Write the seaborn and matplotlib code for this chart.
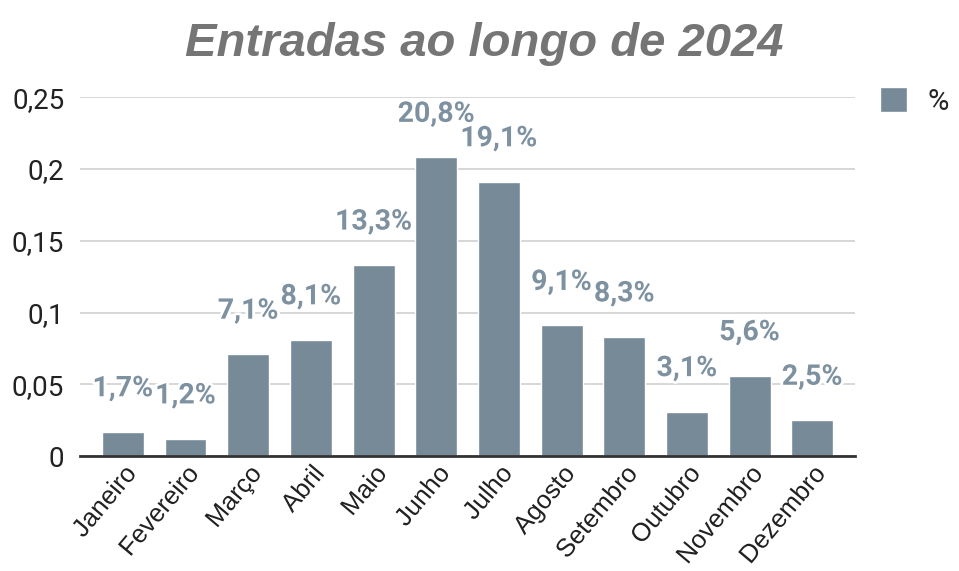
import matplotlib
matplotlib.use("Agg")
import matplotlib.pyplot as plt
import matplotlib.patheffects as pe
import pandas as pd
import seaborn as sns

# Data
meses = ["Janeiro", "Fevereiro", "Março", "Abril", "Maio", "Junho",
         "Julho", "Agosto", "Setembro", "Outubro", "Novembro", "Dezembro"]
valores = [0.017, 0.012, 0.071, 0.081, 0.133, 0.208,
           0.191, 0.091, 0.083, 0.031, 0.056, 0.025]
yticks = [0, 0.05, 0.1, 0.15, 0.2, 0.25]
ytick_labels = ["0", "0,05", "0,1", "0,15", "0,2", "0,25"]

df = pd.DataFrame({"mes": meses, "valor": valores})

bar_color = "#768a98"
label_color = "#7d91a1"

sns.set_style("white")
plt.rcParams["font.family"] = ["Roboto", "DejaVu Sans"]

fig = plt.figure(figsize=(9.59, 5.71), dpi=100)
ax = fig.add_axes([0.083, 0.201, 0.809, 0.629])

sns.barplot(data=df, x="mes", y="valor", color=bar_color, width=0.67,
            saturation=1, ax=ax, label="%")

ax.set_ylim(0, 0.25)
ax.set_xlim(-0.69, 11.69)
ax.set_yticks(yticks)
ax.set_yticklabels(ytick_labels, fontsize=20, color="#222222")
ax.yaxis.grid(True, color="#d4d4d4", linewidth=1.3)
ax.set_axisbelow(True)
for s in ["top", "right", "left"]:
    ax.spines[s].set_visible(False)
ax.spines["bottom"].set_color("#333333")
ax.spines["bottom"].set_linewidth(2)
ax.tick_params(axis="y", length=0, pad=11)
ax.tick_params(axis="x", length=0, pad=4)
ax.set_xlabel("")
ax.set_ylabel("")

ax.set_xticks(range(len(meses)))
ax.set_xticklabels(meses, rotation=50, ha="right", rotation_mode="anchor",
                   fontsize=18.5, family="Liberation Sans", color="#222222")
for t in ax.get_xticklabels():
    t.set_path_effects([pe.withStroke(linewidth=3, foreground="white")])

# Value labels
for i, v in enumerate(valores):
    txt = f"{v * 100:.1f}%".replace(".", ",")
    ax.annotate(txt, (i, v), xytext=(0, 31), textcoords="offset points",
                ha="center", va="center", fontsize=20.5, fontweight="bold",
                color=label_color, clip_on=False,
                path_effects=[pe.withStroke(linewidth=4, foreground="white")])

ax.legend(loc="upper left", bbox_to_anchor=(1.005, 1.085), frameon=False,
          fontsize=21, handlelength=0.95, handleheight=0.95, borderaxespad=0.3,
          handletextpad=0.7)

fig.suptitle("Entradas ao longo de 2024", x=0.505, y=0.962, fontsize=34,
             fontweight="bold", fontstyle="italic", family="Liberation Sans",
             color="#757575")

fig.savefig("out.png", dpi=100, facecolor="white")
